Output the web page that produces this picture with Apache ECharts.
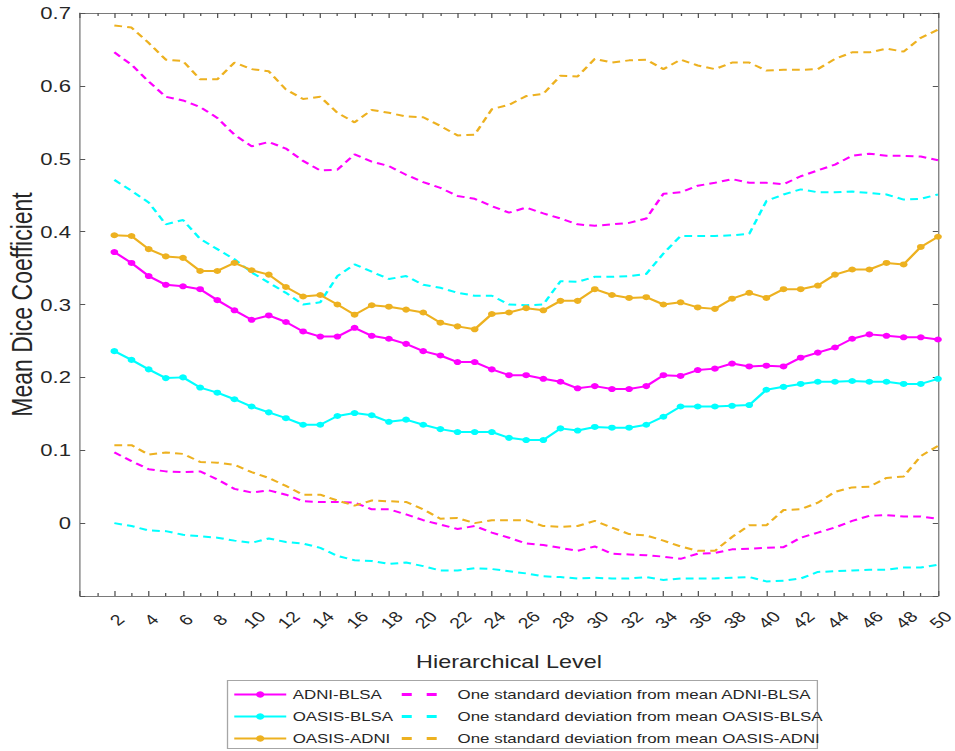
<!DOCTYPE html>
<html>
<head>
<meta charset="utf-8">
<script src="https://cdn.jsdelivr.net/npm/echarts@6/dist/echarts.min.js"></script>
<style>
  html, body { margin: 0; padding: 0; background: #fff; overflow: hidden; }
  /* The figure is laid out at 735px wide and widened to 955px, giving the
     horizontally stretched look of the exported figure. */
  #chart { width: 735px; height: 751px; transform: scaleX(1.2993); transform-origin: 0 0; }
</style>
</head>
<body>
<div id="chart"></div>
<script>
// Hierarchical levels 2..50
const levels = [2,3,4,5,6,7,8,9,10,11,12,13,14,15,16,17,18,19,20,21,22,23,24,25,26,
  27,28,29,30,31,32,33,34,35,36,37,38,39,40,41,42,43,44,45,46,47,48,49,50];

// Mean Dice coefficient per level
const adniBlsa = [0.372,0.357,0.339,0.327,0.325,0.321,0.306,0.292,0.279,0.285,0.276,0.263,0.256,0.256,0.268,0.257,
  0.253,0.246,0.236,0.230,0.221,0.221,0.211,0.203,0.203,0.198,0.194,0.185,0.188,0.184,0.184,0.188,
  0.203,0.202,0.210,0.212,0.219,0.215,0.216,0.215,0.227,0.234,0.241,0.253,0.259,0.257,0.255,0.255,0.252];
const oasisBlsa = [0.236,0.224,0.211,0.199,0.200,0.186,0.179,0.170,0.160,0.152,0.144,0.135,0.135,0.147,0.151,0.148,
  0.139,0.142,0.135,0.129,0.125,0.125,0.125,0.117,0.114,0.114,0.130,0.127,0.132,0.131,0.131,0.135,
  0.146,0.160,0.160,0.160,0.161,0.162,0.183,0.187,0.191,0.194,0.194,0.195,0.194,0.194,0.191,0.191,0.198];
const oasisAdni = [0.395,0.394,0.376,0.366,0.364,0.346,0.346,0.357,0.347,0.341,0.324,0.311,0.313,0.300,0.286,0.299,
  0.297,0.293,0.289,0.275,0.270,0.266,0.287,0.289,0.295,0.292,0.305,0.305,0.321,0.313,0.309,0.310,
  0.300,0.303,0.296,0.294,0.308,0.316,0.309,0.321,0.321,0.326,0.341,0.348,0.348,0.357,0.355,0.379,0.393];

// Mean +/- one standard deviation
const adniBlsaUpper = [0.646,0.629,0.606,0.585,0.580,0.571,0.556,0.533,0.517,0.523,0.514,0.497,0.484,0.485,0.506,0.496,
  0.490,0.478,0.468,0.460,0.449,0.445,0.435,0.426,0.433,0.425,0.418,0.410,0.408,0.410,0.412,0.418,
  0.452,0.454,0.463,0.467,0.472,0.467,0.467,0.465,0.476,0.484,0.492,0.504,0.507,0.504,0.504,0.503,0.498];
const adniBlsaLower = [0.097,0.085,0.074,0.071,0.070,0.071,0.060,0.047,0.042,0.045,0.039,0.030,0.029,0.029,0.028,0.019,
  0.019,0.012,0.004,-0.002,-0.008,-0.004,-0.013,-0.020,-0.028,-0.030,-0.034,-0.038,-0.032,-0.042,-0.043,-0.044,
  -0.046,-0.049,-0.042,-0.041,-0.036,-0.035,-0.034,-0.033,-0.020,-0.013,-0.006,0.003,0.010,0.011,0.009,0.009,0.006];
const oasisBlsaUpper = [0.471,0.456,0.440,0.410,0.416,0.390,0.376,0.362,0.344,0.330,0.316,0.300,0.303,0.339,0.355,0.345,
  0.335,0.339,0.327,0.323,0.316,0.312,0.312,0.300,0.299,0.300,0.332,0.331,0.338,0.338,0.339,0.342,
  0.370,0.394,0.394,0.394,0.395,0.397,0.442,0.451,0.458,0.454,0.454,0.455,0.453,0.451,0.444,0.445,0.451];
const oasisBlsaLower = [0.000,-0.004,-0.010,-0.011,-0.016,-0.018,-0.020,-0.024,-0.027,-0.021,-0.026,-0.028,-0.034,-0.045,-0.051,-0.052,
  -0.056,-0.054,-0.059,-0.065,-0.065,-0.062,-0.063,-0.066,-0.069,-0.073,-0.074,-0.076,-0.075,-0.076,-0.076,-0.074,
  -0.078,-0.076,-0.076,-0.076,-0.075,-0.074,-0.080,-0.079,-0.076,-0.067,-0.066,-0.065,-0.064,-0.064,-0.061,-0.061,-0.057];
const oasisAdniUpper = [0.683,0.680,0.659,0.636,0.634,0.609,0.609,0.632,0.623,0.620,0.595,0.582,0.585,0.563,0.550,0.567,
  0.563,0.558,0.557,0.545,0.532,0.533,0.568,0.574,0.586,0.589,0.614,0.613,0.637,0.632,0.635,0.636,
  0.623,0.636,0.628,0.623,0.632,0.632,0.621,0.622,0.622,0.623,0.637,0.646,0.646,0.651,0.647,0.666,0.677];
const oasisAdniLower = [0.107,0.107,0.094,0.097,0.095,0.084,0.083,0.080,0.070,0.062,0.051,0.039,0.039,0.031,0.024,0.031,
  0.030,0.029,0.019,0.006,0.007,0.000,0.004,0.004,0.004,-0.004,-0.005,-0.004,0.003,-0.006,-0.015,-0.017,
  -0.024,-0.032,-0.038,-0.038,-0.019,-0.003,-0.003,0.018,0.019,0.028,0.043,0.049,0.050,0.062,0.064,0.092,0.106];

const meanNames = ['ADNI-BLSA', 'OASIS-BLSA', 'OASIS-ADNI'];
const sdNames = [
  'One standard deviation from mean ADNI-BLSA',
  'One standard deviation from mean OASIS-BLSA',
  'One standard deviation from mean OASIS-ADNI'
];

const MAGENTA = '#FF00FF', CYAN = '#00FFFF', ORANGE = '#EDB120';
const TEXT = '#262626', AXIS = '#7a7a7a', TICK = '#555555';
const FONT = '"Liberation Sans", Arial, sans-serif';

const pairs = vals => levels.map((x, i) => [x, vals[i]]);

function meanSeries(name, color, vals) {
  return {
    name, type: 'line', data: pairs(vals),
    symbol: 'circle', symbolSize: 6,
    itemStyle: { color },
    lineStyle: { color, width: 2 },
    z: 3
  };
}
function sdSeries(name, color, vals) {
  return {
    name, type: 'line', data: pairs(vals),
    symbol: 'none',
    itemStyle: { color },
    lineStyle: { color, width: 2, type: [6, 4] },
    z: 2
  };
}

const series = [
  meanSeries(meanNames[0], MAGENTA, adniBlsa),
  meanSeries(meanNames[1], CYAN, oasisBlsa),
  meanSeries(meanNames[2], ORANGE, oasisAdni),
  // upper and lower band of each pair share one legend entry
  sdSeries(sdNames[0], MAGENTA, adniBlsaUpper),
  sdSeries(sdNames[0], MAGENTA, adniBlsaLower),
  sdSeries(sdNames[1], CYAN, oasisBlsaUpper),
  sdSeries(sdNames[1], CYAN, oasisBlsaLower),
  sdSeries(sdNames[2], ORANGE, oasisAdniUpper),
  sdSeries(sdNames[2], ORANGE, oasisAdniLower)
];

const xBase = {
  type: 'value', min: 0, max: 50, interval: 2,
  axisLine: { show: true, onZero: false, lineStyle: { color: AXIS, width: 1 } },
  axisTick: { show: true, inside: true, length: 5, lineStyle: { color: TICK } },
  minorTick: { show: true, splitNumber: 2, length: 3, lineStyle: { color: TICK } },
  splitLine: { show: false }
};
const yBase = {
  type: 'value', min: -0.1, max: 0.7, interval: 0.1,
  axisLine: { show: true, onZero: false, lineStyle: { color: AXIS, width: 1 } },
  axisTick: { show: true, inside: true, length: 4, lineStyle: { color: TICK } },
  splitLine: { show: false }
};

const legendText = { color: TEXT, fontSize: 13, fontFamily: FONT };

const chart = echarts.init(document.getElementById('chart'), null, { renderer: 'svg' });
chart.setOption({
  backgroundColor: '#fff',
  animation: false,
  grid: { left: 61.6, right: 13.1, top: 13, bottom: 155, containLabel: false, outerBoundsMode: 'none' },
  xAxis: [
    Object.assign({}, xBase, {
      position: 'bottom',
      name: 'Hierarchical Level', nameLocation: 'middle', nameGap: 57, nameMoveOverlap: false,
      nameTextStyle: { color: TEXT, fontSize: 18, fontFamily: FONT },
      axisLabel: {
        color: TEXT, fontSize: 15, fontFamily: FONT, rotate: 45, margin: 26,
        align: 'center', verticalAlign: 'middle', padding: [0, 0, 0, 6],
        formatter: v => (v === 0 ? '' : String(v))
      }
    }),
    Object.assign({}, xBase, { position: 'top', axisLabel: { show: false } })
  ],
  yAxis: [
    Object.assign({}, yBase, {
      position: 'left',
      name: 'Mean Dice Coefficient', nameLocation: 'middle', nameGap: 33, nameMoveOverlap: false,
      nameTextStyle: { color: TEXT, fontSize: 23, fontFamily: FONT },
      axisLabel: {
        color: TEXT, fontSize: 17, fontFamily: FONT, margin: 7,
        formatter: v => (v < -0.05 ? '' : String(Math.round(v * 10) / 10))
      }
    }),
    Object.assign({}, yBase, { position: 'right', axisLabel: { show: false } })
  ],
  legend: [
    {
      data: meanNames, orient: 'vertical', left: 179.3, top: 688, height: 90, padding: 0,
      itemWidth: 40, itemHeight: 8, itemGap: 9,
      textStyle: legendText,
      selectedMode: false
    },
    {
      // dashed entries: line sample only, no marker
      data: sdNames, orient: 'vertical', left: 307.7, top: 688, height: 90, padding: 0,
      itemWidth: 38, itemHeight: 8, itemGap: 9,
      itemStyle: { opacity: 0 },
      lineStyle: { width: 3, type: [7.7, 11.5] },
      textStyle: legendText,
      selectedMode: false
    }
  ],
  graphic: [{
    type: 'rect', left: 174.6, top: 680, z: -1,
    shape: { width: 454, height: 68 },
    style: { fill: '#fff', stroke: '#a6a6a6', lineWidth: 1 }
  }],
  series
});
</script>
</body>
</html>
